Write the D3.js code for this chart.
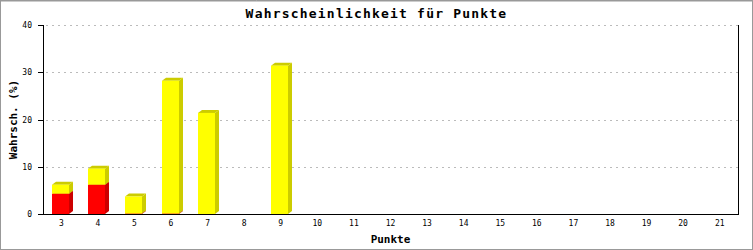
<!DOCTYPE html>
<html>
<head>
<meta charset="utf-8">
<script src="https://cdn.jsdelivr.net/npm/d3@7"></script>
<style>
  body { margin: 0; background: #fff; }
  svg { display: block; }
  .tick-label { font-family: "DejaVu Sans Mono", monospace; font-size: 8px; fill: #000; }
  .axis-title { font-family: "DejaVu Sans Mono", monospace; font-size: 11px; font-weight: bold; fill: #000; }
  .chart-title { font-family: "DejaVu Sans Mono", monospace; font-size: 13px; font-weight: bold; letter-spacing: 1.2px; fill: #000; }
</style>
</head>
<body>
<div id="chart"></div>
<script>

// data
var categories = ['3','4','5','6','7','8','9','10','11','12','13','14','15','16','17','18','19','20','21'];
var redValues    = [4.3, 6.2, 0.1, 0.1, 0, 0, 0, 0, 0, 0, 0, 0, 0, 0, 0, 0, 0, 0, 0];
var yellowTotals = [6.2, 9.6, 3.7, 28.2, 21.4, 0, 31.4, 0, 0, 0, 0, 0, 0, 0, 0, 0, 0, 0, 0];
var yTicks = [0, 10, 20, 30, 40];

var W = 753, H = 250;
var margin = {top: 25, right: 15, bottom: 36, left: 43};
var depthX = 4, depthY = 3;

var svg = d3.select('#chart').append('svg')
    .attr('width', W)
    .attr('height', H);

// frame
svg.append('rect')
    .attr('x', 0.5).attr('y', 1)
    .attr('width', W - 1).attr('height', H - 1.5)
    .attr('fill', 'none')
    .attr('stroke', '#999');
svg.append('line')
    .attr('x1', 0).attr('x2', W).attr('y1', 0.5).attr('y2', 0.5)
    .attr('stroke', '#999');

var x = d3.scaleBand()
    .domain(categories)
    .range([margin.left, W - margin.right]);

var y = d3.scaleLinear()
    .domain([0, 40])
    .range([H - margin.bottom, margin.top]);

// grid
svg.selectAll('.grid')
    .data(yTicks.filter(function(d) { return d > 0; }))
  .enter().append('line')
    .attr('class', 'grid')
    .attr('x1', margin.left + 3)
    .attr('x2', W - margin.right)
    .attr('y1', function(d) { return Math.round(y(d)) + 0.5; })
    .attr('y2', function(d) { return Math.round(y(d)) + 0.5; })
    .attr('stroke', '#bbb')
    .attr('stroke-dasharray', '2,4');

// bars with a little 3d look
function drawSeg(g, x0, w, v0, v1, front, dark) {
    if (v1 <= v0) return;
    var yb = y(v0), yt = y(v1);
    g.append('path')
        .attr('d', 'M' + (x0 + w) + ',' + yb +
                   'L' + (x0 + w + depthX) + ',' + (yb - depthY) +
                   'L' + (x0 + w + depthX) + ',' + (yt - depthY) +
                   'L' + (x0 + w) + ',' + yt + 'Z')
        .attr('fill', dark);
    g.append('path')
        .attr('d', 'M' + x0 + ',' + yt +
                   'L' + (x0 + depthX) + ',' + (yt - depthY) +
                   'L' + (x0 + w + depthX) + ',' + (yt - depthY) +
                   'L' + (x0 + w) + ',' + yt + 'Z')
        .attr('fill', dark);
    g.append('rect')
        .attr('x', x0).attr('y', yt)
        .attr('width', w).attr('height', yb - yt)
        .attr('fill', front);
}

var bars = svg.append('g');
var barW = 17;
categories.forEach(function(c, i) {
    var x0 = Math.round(x(c) + x.bandwidth() / 2 - 9.5);
    var g = bars.append('g');
    drawSeg(g, x0, barW, 0, redValues[i], '#ff0000', '#cc0000');
    drawSeg(g, x0, barW, redValues[i], yellowTotals[i], '#ffff00', '#cccc00');
});

// axes lines
svg.append('line')
    .attr('x1', margin.left + 0.5).attr('x2', margin.left + 0.5)
    .attr('y1', margin.top).attr('y2', y(0) + 0.5)
    .attr('stroke', '#000');
svg.append('line')
    .attr('x1', W - margin.right + 0.5).attr('x2', W - margin.right + 0.5)
    .attr('y1', margin.top).attr('y2', y(0) + 0.5)
    .attr('stroke', '#000');
svg.append('line')
    .attr('x1', margin.left).attr('x2', W - margin.right + 1)
    .attr('y1', Math.round(y(0)) + 0.5).attr('y2', Math.round(y(0)) + 0.5)
    .attr('stroke', '#000');

// y ticks
svg.selectAll('.ytick')
    .data(yTicks)
  .enter().append('line')
    .attr('x1', margin.left - 5).attr('x2', margin.left)
    .attr('y1', function(d) { return Math.round(y(d)) + 0.5; })
    .attr('y2', function(d) { return Math.round(y(d)) + 0.5; })
    .attr('stroke', '#000');

svg.selectAll('.ylabel')
    .data(yTicks)
  .enter().append('text')
    .attr('class', 'tick-label')
    .attr('x', margin.left - 11)
    .attr('y', function(d) { return y(d) + 3; })
    .attr('text-anchor', 'end')
    .text(function(d) { return d; });

svg.selectAll('.xlabel')
    .data(categories)
  .enter().append('text')
    .attr('class', 'tick-label')
    .attr('x', function(d) { return x(d) + x.bandwidth() / 2; })
    .attr('y', y(0) + 12)
    .attr('text-anchor', 'middle')
    .text(function(d) { return d; });

// titles
svg.append('text')
    .attr('class', 'chart-title')
    .attr('x', W / 2)
    .attr('y', 18)
    .attr('text-anchor', 'middle')
    .text('Wahrscheinlichkeit für Punkte');

svg.append('text')
    .attr('class', 'axis-title')
    .attr('x', (margin.left + W - margin.right) / 2)
    .attr('y', 243)
    .attr('text-anchor', 'middle')
    .text('Punkte');

svg.append('text')
    .attr('class', 'axis-title')
    .attr('transform', 'translate(17,' + ((margin.top + y(0)) / 2) + ') rotate(-90)')
    .attr('text-anchor', 'middle')
    .text('Wahrsch. (%)');

</script>
</body>
</html>
